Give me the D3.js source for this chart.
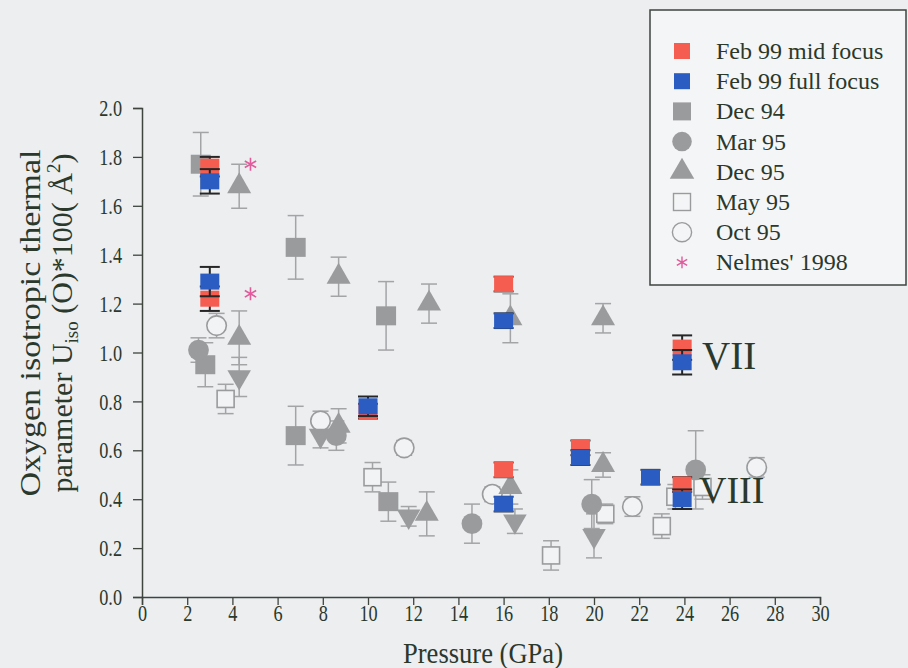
<!DOCTYPE html>
<html><head><meta charset="utf-8">
<script src="https://cdn.jsdelivr.net/npm/d3@7/dist/d3.min.js"></script>
<style>
html,body{margin:0;padding:0;background:#eceef0;}
svg{display:block;}
svg text{font-family:"Liberation Serif","Times New Roman",serif;}
</style></head>
<body><svg id="c" width="908" height="668"></svg>
<script>
// ---- data (pressure GPa, Uiso*100, error) ----
const xTicks = [0,2,4,6,8,10,12,14,16,18,20,22,24,26,28,30];
const yTicks = [0,0.2,0.4,0.6,0.8,1.0,1.2,1.4,1.6,1.8,2.0];

const feb99Mid = [[3.0,1.76,0.04],[3.0,1.22,0.05],[10.0,0.76,0.03],[16.0,1.28,0.03],[16.0,0.52,0.03],[19.4,0.61,0.03],[23.9,1.02,0.05],[23.9,0.46,0.03]];
const feb99Full = [[3.0,1.70,0.05],[3.0,1.29,0.06],[10.0,0.78,0.04],[16.0,1.13,0.03],[16.0,0.38,0.03],[19.4,0.57,0.03],[22.5,0.49,0.03],[23.9,0.96,0.05],[23.9,0.40,0.04]];
const dec94 = [[2.6,1.77,0.13],[2.8,0.95,0.09],[6.8,1.43,0.13],[6.8,0.66,0.12],[10.8,1.15,0.14],[10.9,0.39,0.08]];
const mar95 = [[2.5,1.01,0.05],[8.6,0.66,0.06],[14.6,0.30,0.08],[19.9,0.38,0.1],[24.5,0.52,0.16]];
const dec95 = [[4.3,1.68,0.09],[4.3,1.06,0.11],[8.7,1.31,0.08],[12.7,1.20,0.08],[8.7,0.70,0.07],[12.6,0.34,0.09],[16.3,1.14,0.1],[16.3,0.45,0.07],[20.4,1.14,0.06],[20.4,0.54,0.05]];
const dec95Down = [[4.3,0.90,0.08],[7.9,0.66,0.05],[11.8,0.33,0.04],[16.5,0.31,0.05],[20.0,0.25,0.09]];
const may95 = [[3.7,0.81,0.06],[10.2,0.49,0.06],[18.1,0.17,0.06],[20.5,0.34,0.04],[23.0,0.29,0.05],[23.6,0.41,0.05],[24.8,0.45,0.05]];
const oct95 = [[3.3,1.11,0.05],[7.9,0.72,0.04],[11.6,0.61,0.03],[15.5,0.42,0.03],[21.7,0.37,0.04],[27.2,0.53,0.04]];
const nelmes = [[4.8,1.77],[4.8,1.24]];

const legendLabels = ["Feb 99 mid focus","Feb 99 full focus","Dec 94","Mar 95","Dec 95","May 95","Oct 95","Nelmes' 1998"];

// ---- setup ----
const svg = d3.select("#c");
const TXT = "#2b382c", GRAY = "#9a9b9d", EGRAY = "#a3a4a6", RED = "#f45d50", BLUE = "#2a5cc2", PINK = "#e25a9c", BG = "#f2f3f4";
const FONT = "Liberation Serif";
const x = d3.scaleLinear().domain([0,30]).range([142,820]);
const y = d3.scaleLinear().domain([0,2]).range([597,108]);

function condense(sel, f){
  sel.each(function(){
    const L = this.getComputedTextLength();
    d3.select(this).attr("textLength", L*f).attr("lengthAdjust","spacingAndGlyphs");
  });
}

// axes
const gx = svg.append("g").attr("transform","translate(0,597)");
gx.call(d3.axisBottom(x).tickValues(d3.range(1,31,2)).tickSize(4).tickFormat(""));
gx.call(d3.axisBottom(x).tickValues(xTicks).tickSize(8).tickFormat(d3.format("d")).tickPadding(-1));
const gy = svg.append("g").attr("transform","translate(142,0)");
gy.call(d3.axisLeft(y).tickValues(d3.range(0.1,2,0.2)).tickSize(4).tickFormat(""));
gy.call(d3.axisLeft(y).tickValues(yTicks).tickSize(9).tickFormat(d3.format(".1f")).tickPadding(11));
[gx,gy].forEach(g=>g.attr("font-family",FONT).attr("font-size",24));
svg.selectAll(".domain").attr("stroke","#3f443f").attr("stroke-width",1.5);
svg.selectAll(".tick line").attr("stroke","#3f443f").attr("stroke-width",1.3);
svg.selectAll(".tick text").attr("fill",TXT).attr("font-size",24);
condense(svg.selectAll(".tick text"), 0.76);

// axis titles
const xt = svg.append("text").attr("x",483).attr("y",663).attr("text-anchor","middle")
  .attr("font-size",30).attr("fill",TXT).text("Pressure (GPa)");
xt.attr("textLength",160).attr("lengthAdjust","spacingAndGlyphs");
const yt = svg.append("g").attr("transform","translate(0,323) rotate(-90)");
yt.append("text").attr("x",0).attr("y",40).attr("text-anchor","middle").attr("font-size",30).attr("fill",TXT)
  .attr("textLength",347).attr("lengthAdjust","spacingAndGlyphs")
  .text("Oxygen isotropic thermal");
const t2 = yt.append("text").attr("x",0).attr("y",72).attr("text-anchor","middle").attr("font-size",30).attr("fill",TXT);
t2.append("tspan").text("parameter U");
t2.append("tspan").attr("font-size",19).attr("dy",6).text("iso");
t2.append("tspan").attr("dy",-6).text(" (O)*100( Å");
t2.append("tspan").attr("font-size",19).attr("dy",-12).text("2");
t2.append("tspan").attr("dy",12).text(")");

// ---- marks ----
const plot = svg.append("g");
function errBars(data, color, cap, sw){
  const g = plot.append("g").attr("stroke",color).attr("stroke-width",sw);
  data.forEach(d=>{
    g.append("line").attr("x1",x(d[0])).attr("x2",x(d[0])).attr("y1",y(d[1]-d[2])).attr("y2",y(d[1]+d[2]));
    [d[1]-d[2],d[1]+d[2]].forEach(v=>g.append("line").attr("x1",x(d[0])-cap).attr("x2",x(d[0])+cap).attr("y1",y(v)).attr("y2",y(v)));
  });
}
function rects(data, w, h, fill, stroke){
  plot.append("g").selectAll("rect").data(data).join("rect")
    .attr("x",d=>x(d[0])-w/2).attr("y",d=>y(d[1])-h/2).attr("width",w).attr("height",h)
    .attr("fill",fill).attr("stroke",stroke||"none").attr("stroke-width",1.6);
}
function symbols(data, type, size, fill, stroke, rot){
  plot.append("g").selectAll("path").data(data).join("path")
    .attr("d", d3.symbol().type(type).size(size))
    .attr("transform", d=>`translate(${x(d[0])},${y(d[1])})${rot?" rotate(180)":""}`)
    .attr("fill",fill).attr("stroke",stroke||"none").attr("stroke-width",1.6);
}
// gray series
[dec94,mar95,dec95,dec95Down,may95,oct95].forEach(s=>errBars(s,EGRAY,8,1.5));
rects(may95, 17, 17, BG, GRAY);
symbols(oct95, d3.symbolCircle, 300, BG, GRAY);
rects(dec94, 20, 19, GRAY);
symbols(mar95, d3.symbolCircle, 340, GRAY);
symbols(dec95, d3.symbolTriangle, 250, GRAY);
symbols(dec95Down, d3.symbolTriangle, 240, GRAY, null, true);
// Nelmes asterisks
symbols(nelmes, d3.symbolAsterisk, 120, "none", PINK);
// Feb 99
errBars(feb99Mid,"#262626",10,2);
rects(feb99Mid, 19, 16, RED);
errBars(feb99Full,"#262626",10,2);
rects(feb99Full, 19, 16, BLUE);

// phase labels
svg.append("text").attr("x",702).attr("y",369).attr("font-size",39).attr("fill",TXT).text("VII");
svg.append("text").attr("x",699).attr("y",503).attr("font-size",38).attr("fill",TXT).text("VIII");

// ---- legend ----
const lg = svg.append("g");
lg.append("rect").attr("x",650).attr("y",10).attr("width",256).attr("height",275)
  .attr("fill","#f4f5f6").attr("stroke","#3f443f").attr("stroke-width",1.5);
const legSym = [
  {t:"rect",w:16,h:16,f:RED},{t:"rect",w:16,h:16,f:BLUE},{t:"rect",w:18,h:18,f:GRAY},
  {t:d3.symbolCircle,s:300,f:GRAY},{t:d3.symbolTriangle,s:260,f:GRAY},{t:"rect",w:17,h:17,f:"none",st:GRAY},
  {t:d3.symbolCircle,s:290,f:"none",st:GRAY},{t:d3.symbolAsterisk,s:100,f:"none",st:PINK}];
legendLabels.forEach((lab,i)=>{
  const yy = 51 + i*30.2;
  const s = legSym[i];
  if (s.t === "rect") {
    lg.append("rect").attr("x",682-s.w/2).attr("y",yy-s.h/2).attr("width",s.w).attr("height",s.h)
      .attr("fill",s.f).attr("stroke",s.st||"none").attr("stroke-width",1.4);
  } else {
    lg.append("path").attr("d",d3.symbol().type(s.t).size(s.s))
      .attr("transform",`translate(682,${yy})`).attr("fill",s.f)
      .attr("stroke",s.st||"none").attr("stroke-width",1.4);
  }
  lg.append("text").attr("x",716).attr("y",yy+8).attr("font-size",24).attr("fill",TXT).text(lab);
});
</script></body></html>
